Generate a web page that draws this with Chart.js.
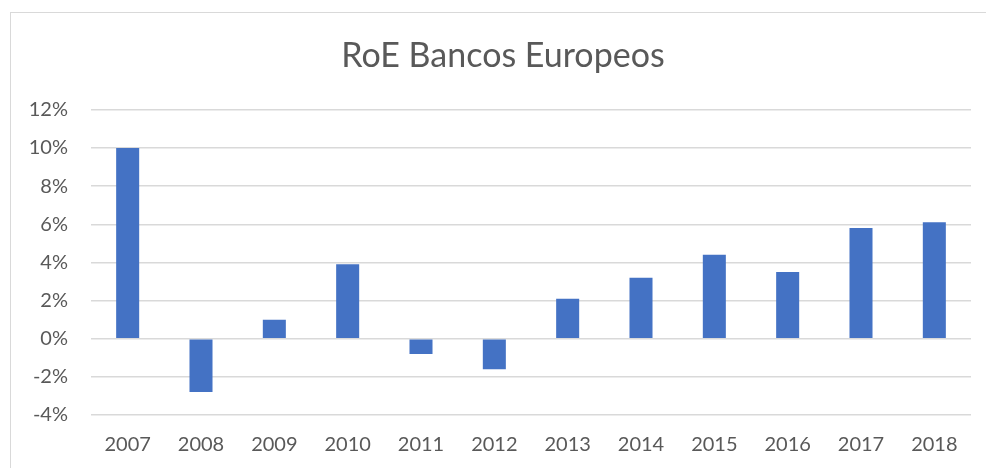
<!DOCTYPE html>
<html>
<head>
<meta charset="utf-8">
<script src="https://cdn.jsdelivr.net/npm/chart.js@4"></script>
<style>
  html, body { margin: 0; padding: 0; background: #fff; overflow: hidden; }
  body { width: 986px; height: 468px; position: relative; }
  #box { position: absolute; left: 10px; top: 12px; width: 986px; height: 460px; border: 1px solid #d9d9d9; box-sizing: border-box; }
  #c { position: absolute; left: 10px; top: 12px; }
</style>
</head>
<body>
<div id="box"></div>
<canvas id="c" width="986" height="456"></canvas>
<script>
const years = ['2007','2008','2009','2010','2011','2012','2013','2014','2015','2016','2017','2018'];
const roe = [10.0, -2.8, 1.0, 3.9, -0.8, -1.6, 2.1, 3.2, 4.4, 3.5, 5.8, 6.1];
const yMin = -4, yMax = 12, yStep = 2;
const chartTitle = 'RoE Bancos Europeos';

const FONT = 'Lato, "Open Sans", sans-serif';
new Chart(document.getElementById('c'), {
  type: 'bar',
  data: {
    labels: years,
    datasets: [{
      label: 'RoE',
      data: roe,
      yAxisID: 'y',
      backgroundColor: '#4472C4',
      borderWidth: 0,
      barPercentage: 0.314,
      categoryPercentage: 1.0
    }]
  },
  options: {
    responsive: false,
    maintainAspectRatio: false,
    animation: false,
    devicePixelRatio: 1,
    layout: { padding: { left: 0, right: 0, top: 0, bottom: 11 } },
    plugins: {
      legend: { display: false },
      tooltip: { enabled: false },
      title: {
        display: true,
        text: chartTitle,
        color: '#595959',
        font: { family: FONT, size: 34, weight: 'normal' },
        padding: { top: 24, bottom: 33 }
      }
    },
    scales: {
      x: {
        afterFit: (s) => { s.height = 42; },
        grid: { display: false, drawTicks: false },
        border: { display: false },
        ticks: { color: '#595959', font: { family: FONT, size: 20 }, padding: 18, maxRotation: 0 }
      },
      y: {
        position: 'left',
        min: yMin, max: yMax,
        afterFit: (s) => { s.width = 81; },
        grid: { color: '#d9d9d9', lineWidth: 1.5, drawTicks: false },
        border: { display: false },
        ticks: {
          stepSize: yStep,
          color: '#595959',
          font: { family: FONT, size: 20 },
          padding: 23,
          callback: (v) => v + '%'
        }
      },
      spacer: {
        type: 'linear',
        position: 'right',
        afterFit: (s) => { s.width = 25; },
        grid: { display: false, drawTicks: false },
        border: { display: false },
        ticks: { display: false }
      }
    }
  }
});
</script>
</body>
</html>
